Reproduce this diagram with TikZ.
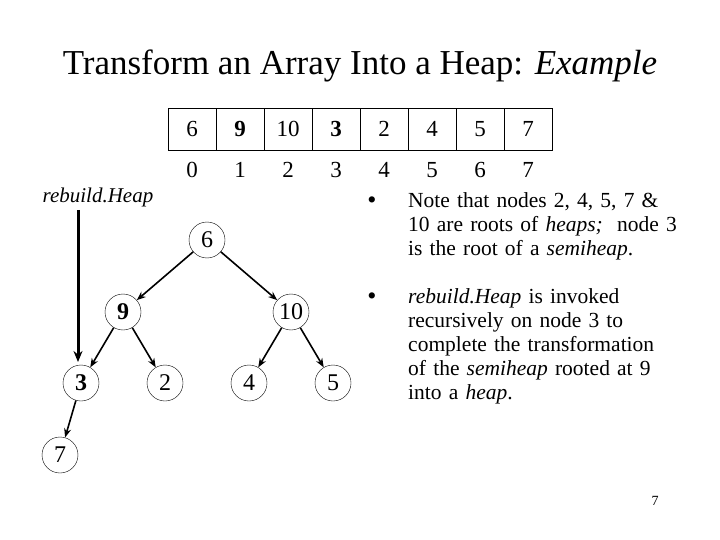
\documentclass[tikz,border=0pt]{standalone}
\usepackage{fontspec}
\setmainfont{Liberation Serif}
\usetikzlibrary{arrows.meta}
\begin{document}
\begin{tikzpicture}[x=1pt,y=-1pt,
  hn/.style={circle,draw,minimum size=36pt,inner sep=0pt,font=\fontsize{24}{24}\selectfont},
  cell/.style={draw,minimum width=48pt,minimum height=42pt,inner sep=0pt,font=\fontsize{23}{24}\selectfont},
  idx/.style={inner sep=0pt,font=\fontsize{23}{24}\selectfont},
  para/.style={anchor=north west,text width=310pt,align=left,inner sep=0pt,font=\fontsize{21.5}{24}\selectfont},
  bul/.style={inner sep=0pt,font=\fontsize{26}{24}\selectfont},
  edge/.style={-{Stealth[length=9pt,width=7pt]},line width=1.6pt}]
\useasboundingbox (0,0) rectangle (720,540);
\node (title) at (360,66) {\fontsize{35}{38}\selectfont Transform an Array Into a Heap: \textit{Example}};
\foreach \v [count=\i from 0] in {6,\textbf{9},10,\textbf{3},2,4,5,7} {
  \node[cell] (c\i) at (192+48*\i,129) {\v};
  \node[idx] (i\i) at (192+48*\i,170) {\i};
}
\node[hn] (n6) at (207,240) {6};
\node[hn] (n9) at (123,312) {\textbf{9}};
\node[hn] (n10) at (291,312) {10};
\node[hn] (n3) at (81,383) {\textbf{3}};
\node[hn] (n2) at (165,383) {2};
\node[hn] (n4) at (249,383) {4};
\node[hn] (n5) at (333,383) {5};
\node[hn] (n7) at (60,455) {7};
\foreach \a/\b in {n6/n9,n6/n10,n9/n3,n9/n2,n10/n4,n10/n5,n3/n7} \draw[edge] (\a) -- (\b);
\node[font=\fontsize{21}{22}\selectfont\itshape] (rh) at (98,197) {rebuild.Heap};
\coordinate (rhe) at (78,362);
\draw[-{Stealth[length=11pt,width=9pt]},line width=3pt] (78,210) -- (rhe);
\node[bul] (b1) at (372,203) {\textbullet};
\node[para] (t1) at (408,192) {Note that nodes 2, 4, 5, 7 \&\\10 are roots of \textit{heaps;}\ \ node 3\\is the root of a \textit{semiheap}.};
\node[bul] (b2) at (372,299) {\textbullet};
\node[para] (t2) at (408,288) {\textit{rebuild.Heap} is invoked\\recursively on node 3 to\\complete the transformation\\of the \textit{semiheap} rooted at 9\\into a \textit{heap}.};
\node[font=\fontsize{14}{16}\selectfont] (pg) at (655,501) {7};
\end{tikzpicture}
\end{document}
